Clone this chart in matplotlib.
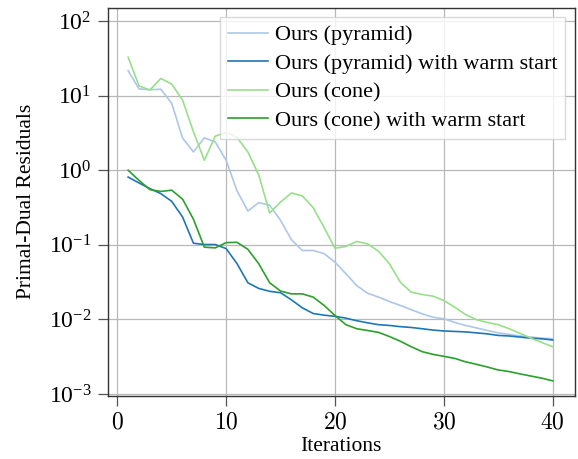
import matplotlib
matplotlib.use("Agg")
import matplotlib.pyplot as plt
from matplotlib.ticker import LogLocator, NullLocator, FuncFormatter

plt.rcParams['font.family'] = ['Liberation Serif', 'DejaVu Serif']
plt.rcParams['mathtext.fontset'] = 'cm'

iterations = list(range(1, 41))

# Ours (pyramid)
pyramid = [21.6, 12.3, 12.0, 12.2, 7.9, 2.7, 1.76, 2.72, 2.4, 1.36,
           0.53, 0.284, 0.368, 0.34, 0.213, 0.117, 0.084, 0.084, 0.076, 0.0586,
           0.041, 0.0284, 0.0224, 0.0199, 0.0174, 0.0154, 0.0135, 0.0119, 0.0107, 0.0102,
           0.0091, 0.0083, 0.0077, 0.0071, 0.0066, 0.0063, 0.0060, 0.0058, 0.0056, 0.0055]

# Ours (pyramid) with warm start
pyramid_warm = [0.81, 0.675, 0.567, 0.486, 0.383, 0.236, 0.105, 0.101, 0.101, 0.089,
                0.056, 0.031, 0.026, 0.0238, 0.0228, 0.0183, 0.0143, 0.0120, 0.0114, 0.0110,
                0.0104, 0.0096, 0.0090, 0.0085, 0.0083, 0.0080, 0.0078, 0.0075, 0.0072, 0.0070,
                0.0069, 0.0068, 0.0066, 0.0064, 0.0061, 0.0060, 0.0058, 0.0056, 0.0055, 0.0053]

# Ours (cone)
cone = [32.7, 13.5, 11.9, 17.0, 14.3, 8.7, 3.27, 1.36, 2.86, 3.2,
        2.75, 1.76, 0.86, 0.267, 0.375, 0.496, 0.452, 0.315, 0.17, 0.090,
        0.095, 0.111, 0.103, 0.082, 0.0557, 0.0316, 0.0232, 0.0216, 0.0205, 0.0179,
        0.0146, 0.0116, 0.0099, 0.0091, 0.0085, 0.0075, 0.0065, 0.0056, 0.0049, 0.0043]

# Ours (cone) with warm start
cone_warm = [1.0, 0.73, 0.55, 0.52, 0.54, 0.41, 0.22, 0.093, 0.091, 0.107,
             0.108, 0.087, 0.0557, 0.031, 0.024, 0.022, 0.022, 0.0199, 0.0154, 0.0113,
             0.0085, 0.0075, 0.0071, 0.0067, 0.0059, 0.0051, 0.0043, 0.0037, 0.0034, 0.0032,
             0.0030, 0.0027, 0.0025, 0.0023, 0.0021, 0.0020, 0.00186, 0.00174, 0.00163, 0.0015]

fig = plt.figure(figsize=(5.78, 4.59), dpi=100)
ax = fig.add_axes([108 / 578, 1 - 395.5 / 459, (574.5 - 108) / 578, (395.5 - 8) / 459])

ax.plot(iterations, pyramid, color='#aec7e8', lw=1.2, label='Ours (pyramid)')
ax.plot(iterations, pyramid_warm, color='#1f77b4', lw=1.2, label='Ours (pyramid) with warm start')
ax.plot(iterations, cone, color='#98df8a', lw=1.2, label='Ours (cone)')
ax.plot(iterations, cone_warm, color='#2ca02c', lw=1.2, label='Ours (cone) with warm start')

ax.set_yscale('log')
ax.set_xlim(-0.85, 42.0)
ax.set_ylim(10 ** -3.02, 10 ** 2.175)
ax.set_xticks([0, 10, 20, 30, 40])
ax.xaxis.set_major_formatter(FuncFormatter(lambda v, p: r'$%d$' % v))
ax.yaxis.set_major_locator(LogLocator(base=10, numticks=10))
ax.yaxis.set_minor_locator(NullLocator())

ax.grid(True, color='#b8b8b8', lw=0.9)
ax.tick_params(direction='out', length=7, width=0.9, color='#555555', labelsize=17, pad=5)
for s in ax.spines.values():
    s.set_color('#333333')
    s.set_linewidth(1.0)

ax.set_xlabel('Iterations', fontsize=15.5, labelpad=3)
ax.set_ylabel('Primal-Dual Residuals', fontsize=15.5, labelpad=9)

leg = ax.legend(loc='upper right', bbox_to_anchor=(0.98, 0.977), borderaxespad=0.0,
                fontsize=16, handlelength=1.8, handletextpad=0.3, labelspacing=0.36,
                borderpad=0.36, fancybox=False, framealpha=0.8, edgecolor='#d0d0d0')
leg.get_frame().set_linewidth(1.0)

fig.savefig('out.png', dpi=100)
